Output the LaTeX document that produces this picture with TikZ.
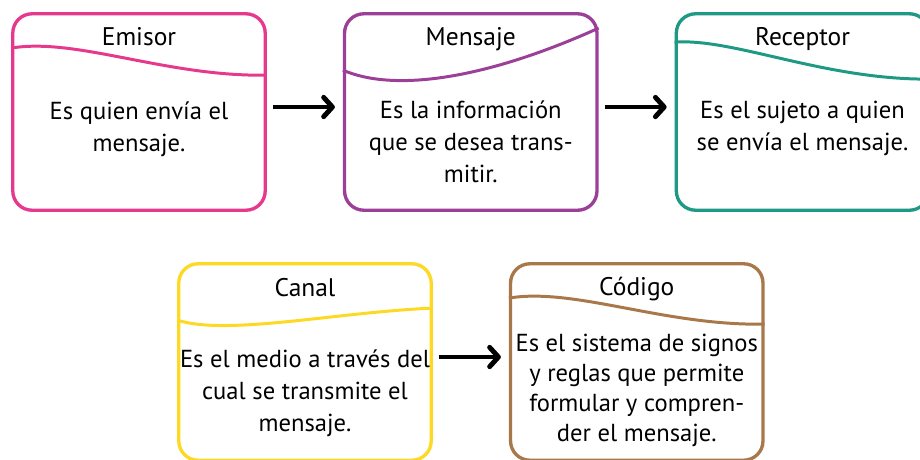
\documentclass[tikz,border=0pt]{standalone}
\usepackage{fontspec}
\setmainfont{PT Sans}
\usetikzlibrary{positioning,calc,arrows.meta}
\definecolor{emisorpink}{HTML}{E6398E}
\definecolor{mensajepurple}{HTML}{9C3F98}
\definecolor{receptorteal}{HTML}{1E9A84}
\definecolor{canalyellow}{HTML}{FDD923}
\definecolor{codigobrown}{HTML}{A8784A}

\begin{document}
\begin{tikzpicture}[x=0.02cm, y=-0.02cm, node distance=1.52cm,
    card/.style={draw=#1, line width=1.9pt, rounded corners=11pt,
      minimum width=5.05cm, minimum height=3.93cm},
    wave/.style={draw=#1, line width=1.7pt},
    title/.style={font=\fontsize{14.5}{18}\selectfont, inner sep=0pt, anchor=base},
    body/.style={font=\fontsize{14}{18.2}\selectfont, align=center, inner sep=0pt},
    flow/.style={line width=2.8pt, -{Straight Barb[length=5pt,width=11pt,round]},
      shorten <=0.12cm, shorten >=0.16cm}]
  \useasboundingbox (0,0) rectangle (920,460);
  \clip (0,0) rectangle (920,460);

  % top row
  \node (emisor) [card=emisorpink] at (139,112) {};
  \node (mensaje) [card=mensajepurple, right=of emisor] {};
  \node (receptor) [card=receptorteal, right=of mensaje] {};

  % bottom row
  \node (canal) [card=canalyellow] at (305,362) {};
  \node (codigo) [card=codigobrown, right=of canal] {};

  % header waves
  \draw [wave=emisorpink] ($(emisor.north west)+(0,36)$)
    .. controls +(65,-11) and +(-100,2) .. ($(emisor.north east)+(0,63)$);
  \draw [wave=mensajepurple] ($(mensaje.north west)+(0,58)$)
    .. controls +(50,22) and +(-115,52) .. ($(mensaje.north east)+(0,16)$);
  \draw [wave=receptorteal] ($(receptor.north west)+(0,30)$)
    .. controls +(60,-4) and +(-106,1) .. ($(receptor.north east)+(0,67)$);
  \draw [wave=canalyellow] ($(canal.north west)+(0,58)$)
    .. controls +(50,16) and +(-96,4) .. ($(canal.north east)+(0,46)$);
  \draw [wave=codigobrown] ($(codigo.north west)+(0,36)$)
    .. controls +(65,-11) and +(-100,2) .. ($(codigo.north east)+(0,62)$);

  % titles
  \node (emisortitle) [title] at ($(emisor.north)+(0,33)$) {Emisor};
  \node (mensajetitle) [title] at ($(mensaje.north)+(0,33)$) {Mensaje};
  \node (receptortitle) [title] at ($(receptor.north)+(0,33)$) {Receptor};
  \node (canaltitle) [title] at ($(canal.north)+(0,34)$) {Canal};
  \node (codigotitle) [title] at ($(codigo.north)+(0,33)$) {Código};

  % descriptions
  \node (emisortext) [body] at ($(emisor.north)+(0,117)$)
    {Es quien envía el\\mensaje.};
  \node (mensajetext) [body] at ($(mensaje.north)+(0,130)$)
    {Es la información\\que se desea trans-\\mitir.};
  \node (receptortext) [body] at ($(receptor.north)+(0,116)$)
    {Es el sujeto a quien\\se envía el mensaje.};
  \node (canaltext) [body] at ($(canal.north)+(0,131)$)
    {Es el medio a través del\\cual se transmite el\\mensaje.};
  \node (codigotext) [body, font=\fontsize{14}{17}\selectfont] at ($(codigo.north)+(0,128)$)
    {Es el sistema de signos\\y reglas que permite\\formular y compren-\\der el mensaje.};

  % arrows
  \draw [flow] ($(emisor.east)+(0,-5)$) -- ($(mensaje.west)+(0,-5)$);
  \draw [flow] ($(mensaje.east)+(0,-5)$) -- ($(receptor.west)+(0,-5)$);
  \draw [flow] ($(canal.east)+(0,-5)$) -- ($(codigo.west)+(0,-5)$);
\end{tikzpicture}
\end{document}
